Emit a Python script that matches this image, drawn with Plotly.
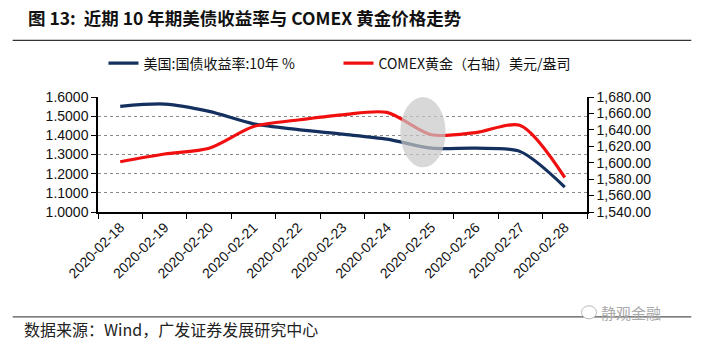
import plotly.graph_objects as go

dates = ["2020-02-18", "2020-02-19", "2020-02-20", "2020-02-21", "2020-02-22",
         "2020-02-23", "2020-02-24", "2020-02-25", "2020-02-26", "2020-02-27", "2020-02-28"]
us10y = [1.551, 1.563, 1.525, 1.460, 1.430, 1.406, 1.380, 1.333, 1.333, 1.315, 1.130]
gold = [1601.2, 1610.6, 1617.6, 1644.0, 1652.0, 1658.3, 1661.2, 1634.0, 1636.7, 1645.3, 1582.0]

left_ticks = [1.0, 1.1, 1.2, 1.3, 1.4, 1.5, 1.6]
right_ticks = [1540, 1560, 1580, 1600, 1620, 1640, 1660, 1680]

name_us = "美国:国债收益率:10年 %"
name_gold = "COMEX黄金（右轴）美元/盎司"
title_text = "<b>图 13:  近期 10 年期美债收益率与 COMEX 黄金价格走势</b>"
source_text = "数据来源：Wind，广发证券发展研究中心"
watermark = "静观金融"

W, H = 704, 344
L, R, T, B = 97.5, 116.5, 97.3, 132.3
PW, PH = W - L - R, H - T - B


def px_x(x):
    return (x - L) / PW


def px_y(y):
    return 1 - (y - T) / PH


NUM = "Liberation Sans, Arial, sans-serif"
CJK = "Noto Sans CJK SC, sans-serif"

fig = go.Figure()
fig.add_trace(go.Scatter(x=dates, y=us10y, name=name_us, mode="lines",
                         line=dict(color="#14305f", width=3.2, shape="spline", smoothing=0.8),
                         yaxis="y"))
fig.add_trace(go.Scatter(x=dates, y=gold, name=name_gold, mode="lines",
                         line=dict(color="#f01010", width=3.2, shape="spline", smoothing=0.8),
                         yaxis="y2"))

shapes = [
    # highlight ellipse
    dict(type="circle", xref="x", yref="y", x0=6.3, x1=7.32, y0=1.233, y1=1.6,
         fillcolor="rgba(200,200,200,0.7)", line=dict(width=0), layer="above"),
    # title rule
    dict(type="line", xref="paper", yref="paper", x0=px_x(12), x1=px_x(692),
         y0=px_y(41), y1=px_y(41), line=dict(color="#333", width=1.3)),
    # bottom rule
    dict(type="line", xref="paper", yref="paper", x0=px_x(12), x1=px_x(692),
         y0=px_y(316), y1=px_y(316), line=dict(color="#555", width=1.3)),
    # watermark icon
    dict(type="circle", xref="paper", yref="paper", x0=px_x(582), x1=px_x(597),
         y0=px_y(318), y1=px_y(305), line=dict(color="#bbb", width=1), fillcolor="white"),
]

annotations = [
    dict(text=title_text, xref="paper", yref="paper", x=px_x(25), y=px_y(18),
         xanchor="left", yanchor="middle", showarrow=False,
         font=dict(family=CJK, size=17.5, color="#111"), ),
    dict(text=source_text, xref="paper", yref="paper", x=px_x(21), y=px_y(328),
         xanchor="left", yanchor="middle", showarrow=False,
         font=dict(family=CJK, size=16, color="#222")),
    dict(text=watermark, xref="paper", yref="paper", x=px_x(600), y=px_y(312),
         xanchor="left", yanchor="middle", showarrow=False,
         font=dict(family=CJK, size=15, color="#aaa")),
]

fig.update_layout(
    width=W, height=H,
    margin=dict(l=L, r=R, t=T, b=B, autoexpand=False),
    paper_bgcolor="white", plot_bgcolor="white",
    showlegend=True,
    legend=dict(orientation="h", x=px_x(103), y=px_y(64), xanchor="left", yanchor="middle",
                font=dict(family=CJK, size=14, color="#111"), entrywidth=190,
                bgcolor="rgba(0,0,0,0)", borderwidth=0),
    xaxis=dict(type="category", tickson="boundaries", ticks="outside", ticklen=5,
               tickcolor="black", showline=True, linecolor="black", linewidth=1.5,
               showgrid=False, tickangle=-45, range=[-0.5, 10.5],
               tickfont=dict(family=NUM, size=14, color="#111")),
    yaxis=dict(range=[1.0, 1.6], tickvals=left_ticks, tickformat=".4f",
               ticks="outside", ticklen=5, tickcolor="black", showline=True,
               linecolor="black", linewidth=1.5, showgrid=True, gridcolor="#8a8a8a",
               griddash="dot", gridwidth=1, zeroline=False,
               tickfont=dict(family=NUM, size=14, color="#111")),
    yaxis2=dict(range=[1540, 1680], tickvals=right_ticks, tickformat=",.2f",
                overlaying="y", side="right", ticks="outside", ticklen=5,
                tickcolor="black", showline=True, linecolor="black", linewidth=1.5,
                showgrid=False, zeroline=False,
                tickfont=dict(family=NUM, size=14, color="#111")),
    shapes=shapes,
    annotations=annotations,
)

fig.write_html("out.html")
